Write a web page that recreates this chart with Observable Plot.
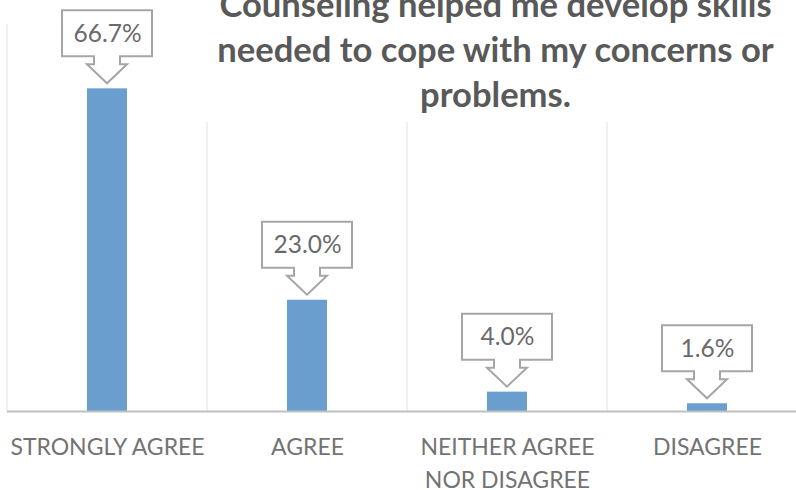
<!DOCTYPE html>
<html>
<head>
<meta charset="utf-8">
<script src="https://cdn.jsdelivr.net/npm/d3@7"></script>
<script src="https://cdn.jsdelivr.net/npm/@observablehq/plot@0.6"></script>
<style>
  body { margin: 0; background: #fff; }
  #wrap { position: relative; width: 796px; height: 490px; overflow: hidden; font-family: Lato, "Open Sans", sans-serif; }
  #chart svg { display: block; overflow: visible; }
  #title { position: absolute; left: 195px; right: 0; top: 0; height: 122px; background: #fff; overflow: hidden; }
  #title div { margin-top: -19px; color: #595959; font-weight: bold; font-size: 34.6px; line-height: 45px; text-align: center; white-space: nowrap; }
</style>
</head>
<body>
<div id="wrap">
  <div id="chart"></div>
  <div id="title"><div></div></div>
</div>
<script>
const titleLines = ["Counseling helped me develop skills", "needed to cope with my concerns or", "problems."];
const categories = ["STRONGLY AGREE", "AGREE", "NEITHER AGREE NOR DISAGREE", "DISAGREE"];
const tickLabels = ["STRONGLY AGREE", "AGREE", "NEITHER AGREE\nNOR DISAGREE", "DISAGREE"];
const values = [66.7, 23.0, 4.0, 1.6];
const valueLabels = ["66.7%", "23.0%", "4.0%", "1.6%"];

const data = categories.map((c, i) => ({category: c, value: values[i], label: valueLabels[i]}));

document.querySelector("#title div").innerHTML = titleLines.join("<br>");

const svgNS = "http://www.w3.org/2000/svg";

function gridlines(index, scales) {
  const x = scales.x, y = scales.y;
  const step = x.step(), bw = x.bandwidth();
  const g = document.createElementNS(svgNS, "g");
  const xs = categories.map(c => x(c) - (step - bw) / 2);
  xs.push(xs[xs.length - 1] + step);
  const [y0, y1] = [y(0), y(y.domain()[1])];
  for (const xv of xs) {
    const l = document.createElementNS(svgNS, "line");
    l.setAttribute("x1", xv); l.setAttribute("x2", xv);
    l.setAttribute("y1", y0); l.setAttribute("y2", y1);
    l.setAttribute("stroke", "#EBEBEB"); l.setAttribute("stroke-width", 1.5);
    g.appendChild(l);
  }
  return g;
}

function callouts(index, scales) {
  const x = scales.x, y = scales.y;
  const bw = x.bandwidth();
  const gap = 5, headH = 19, neckH = 8, boxH = 46, boxW = 90, neckW = 26, headW = 40;
  const g = document.createElementNS(svgNS, "g");
  for (const d of data) {
    const cx = x(d.category) + bw / 2;
    const tipY = y(d.value) - gap;
    const headTop = tipY - headH;
    const neckTop = headTop - neckH;
    const boxTop = neckTop - boxH;
    const p = document.createElementNS(svgNS, "path");
    p.setAttribute("d",
      `M${cx - boxW / 2},${boxTop}H${cx + boxW / 2}V${neckTop}H${cx + neckW / 2}V${headTop}H${cx + headW / 2}` +
      `L${cx},${tipY}L${cx - headW / 2},${headTop}H${cx - neckW / 2}V${neckTop}H${cx - boxW / 2}Z`);
    p.setAttribute("fill", "#fff");
    p.setAttribute("stroke", "#A6A6A6");
    p.setAttribute("stroke-width", 2);
    g.appendChild(p);
  }
  return g;
}

const chart = Plot.plot({
  width: 796,
  height: 490,
  marginLeft: 7,
  marginRight: 0,
  marginTop: 0,
  marginBottom: 79,
  style: {fontFamily: "Lato, 'Open Sans', sans-serif", background: "transparent"},
  x: {type: "band", domain: categories, range: [7, 807], paddingInner: 0.8, paddingOuter: 0.4, align: 0.5},
  y: {domain: [0, 80], range: [411, 24], axis: null},
  marks: [
    gridlines,
    Plot.barY(data, {x: "category", y: "value", fill: "#6A9ECE"}),
    Plot.ruleY([0], {stroke: "#BFBFBF", strokeWidth: 2}),
    callouts,
    Plot.text(data, {x: "category", y: "value", text: "label", dy: -55, fontSize: 24.5, fill: "#6A6A6A"}),
    Plot.axisX({
      tickSize: 0,
      tickPadding: 20,
      fontSize: 23,
      lineHeight: 1.43,
      fill: "#737373",
      tickFormat: d => tickLabels[categories.indexOf(d)],
      label: null
    })
  ]
});

document.getElementById("chart").appendChild(chart);
</script>
</body>
</html>
